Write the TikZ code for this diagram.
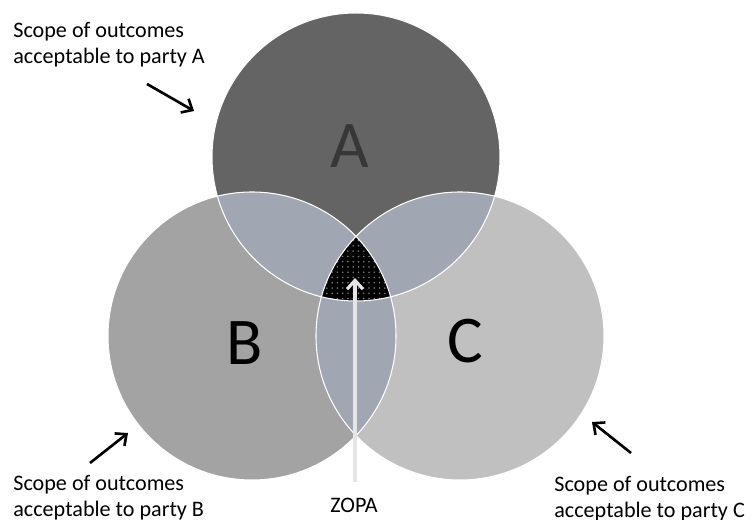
\documentclass[tikz,border=0pt]{standalone}
\usepackage{fontspec}
\setmainfont{Carlito}
\usetikzlibrary{arrows.meta,patterns}
\definecolor{colA}{RGB}{100,100,100}
\definecolor{colB}{RGB}{163,163,163}
\definecolor{colC}{RGB}{192,192,192}
\definecolor{lens}{RGB}{160,167,179}
\definecolor{darkA}{RGB}{55,55,55}
\begin{document}
\begin{tikzpicture}[lbl/.style={align=left,inner sep=0pt,font=\fontsize{12.6}{14.6}\selectfont},
    big/.style={inner sep=0pt,font=\fontsize{38}{40}\selectfont},
    pointer/.style={-{Straight Barb[length=5pt,width=9pt]},line width=1.5pt}]
  \useasboundingbox (0,0) rectangle (15.04,10.4);
  \def\rad{2.88}
  \coordinate (A) at (7.12,7.26);
  \coordinate (B) at (5.04,3.68);
  \coordinate (C) at (9.20,3.68);
  \fill[colA] (A) circle (\rad);
  \fill[colB] (B) circle (\rad);
  \fill[colC] (C) circle (\rad);
  \begin{scope}
    \clip (A) circle (\rad);
    \fill[lens] (B) circle (\rad);
    \fill[lens] (C) circle (\rad);
  \end{scope}
  \begin{scope}
    \clip (B) circle (\rad);
    \fill[lens] (C) circle (\rad);
  \end{scope}
  \begin{scope}
    \clip (A) circle (\rad);
    \clip (B) circle (\rad);
    \fill[black] (C) circle (\rad);
    \fill[pattern=dots,pattern color=gray] (C) circle (\rad);
  \end{scope}
  \draw[white,line width=0.6pt] (A) circle (\rad) (B) circle (\rad) (C) circle (\rad);
  \node[big,text=darkA] (la) at (7.0,7.48) {A};
  \node[big] (lb) at (4.9,3.54) {B};
  \node[big] (lc) at (9.3,3.58) {C};
  \node[lbl,anchor=north west] (scopeA) at (0.26,9.96) {Scope of outcomes\\acceptable to party A};
  \node[lbl,anchor=north west] (scopeB) at (0.26,0.90) {Scope of outcomes\\acceptable to party B};
  \node[lbl,anchor=north west] (scopeC) at (11.08,0.88) {Scope of outcomes\\acceptable to party C};
  \node[lbl,anchor=north] (zopa) at (7.08,0.44) {ZOPA};
  \coordinate (a0) at (2.94,8.72); \coordinate (a1) at (3.88,8.18);
  \coordinate (b0) at (1.80,1.14); \coordinate (b1) at (2.56,1.74);
  \coordinate (c0) at (12.62,1.34); \coordinate (c1) at (11.84,1.96);
  \coordinate (z0) at (7.10,0.76); \coordinate (z1) at (7.10,4.84);
  \draw[pointer] (a0) -- (a1);
  \draw[pointer] (b0) -- (b1);
  \draw[pointer] (c0) -- (c1);
  \draw[pointer,line width=1.8pt,gray!20] (z0) -- (z1);
\end{tikzpicture}
\end{document}
